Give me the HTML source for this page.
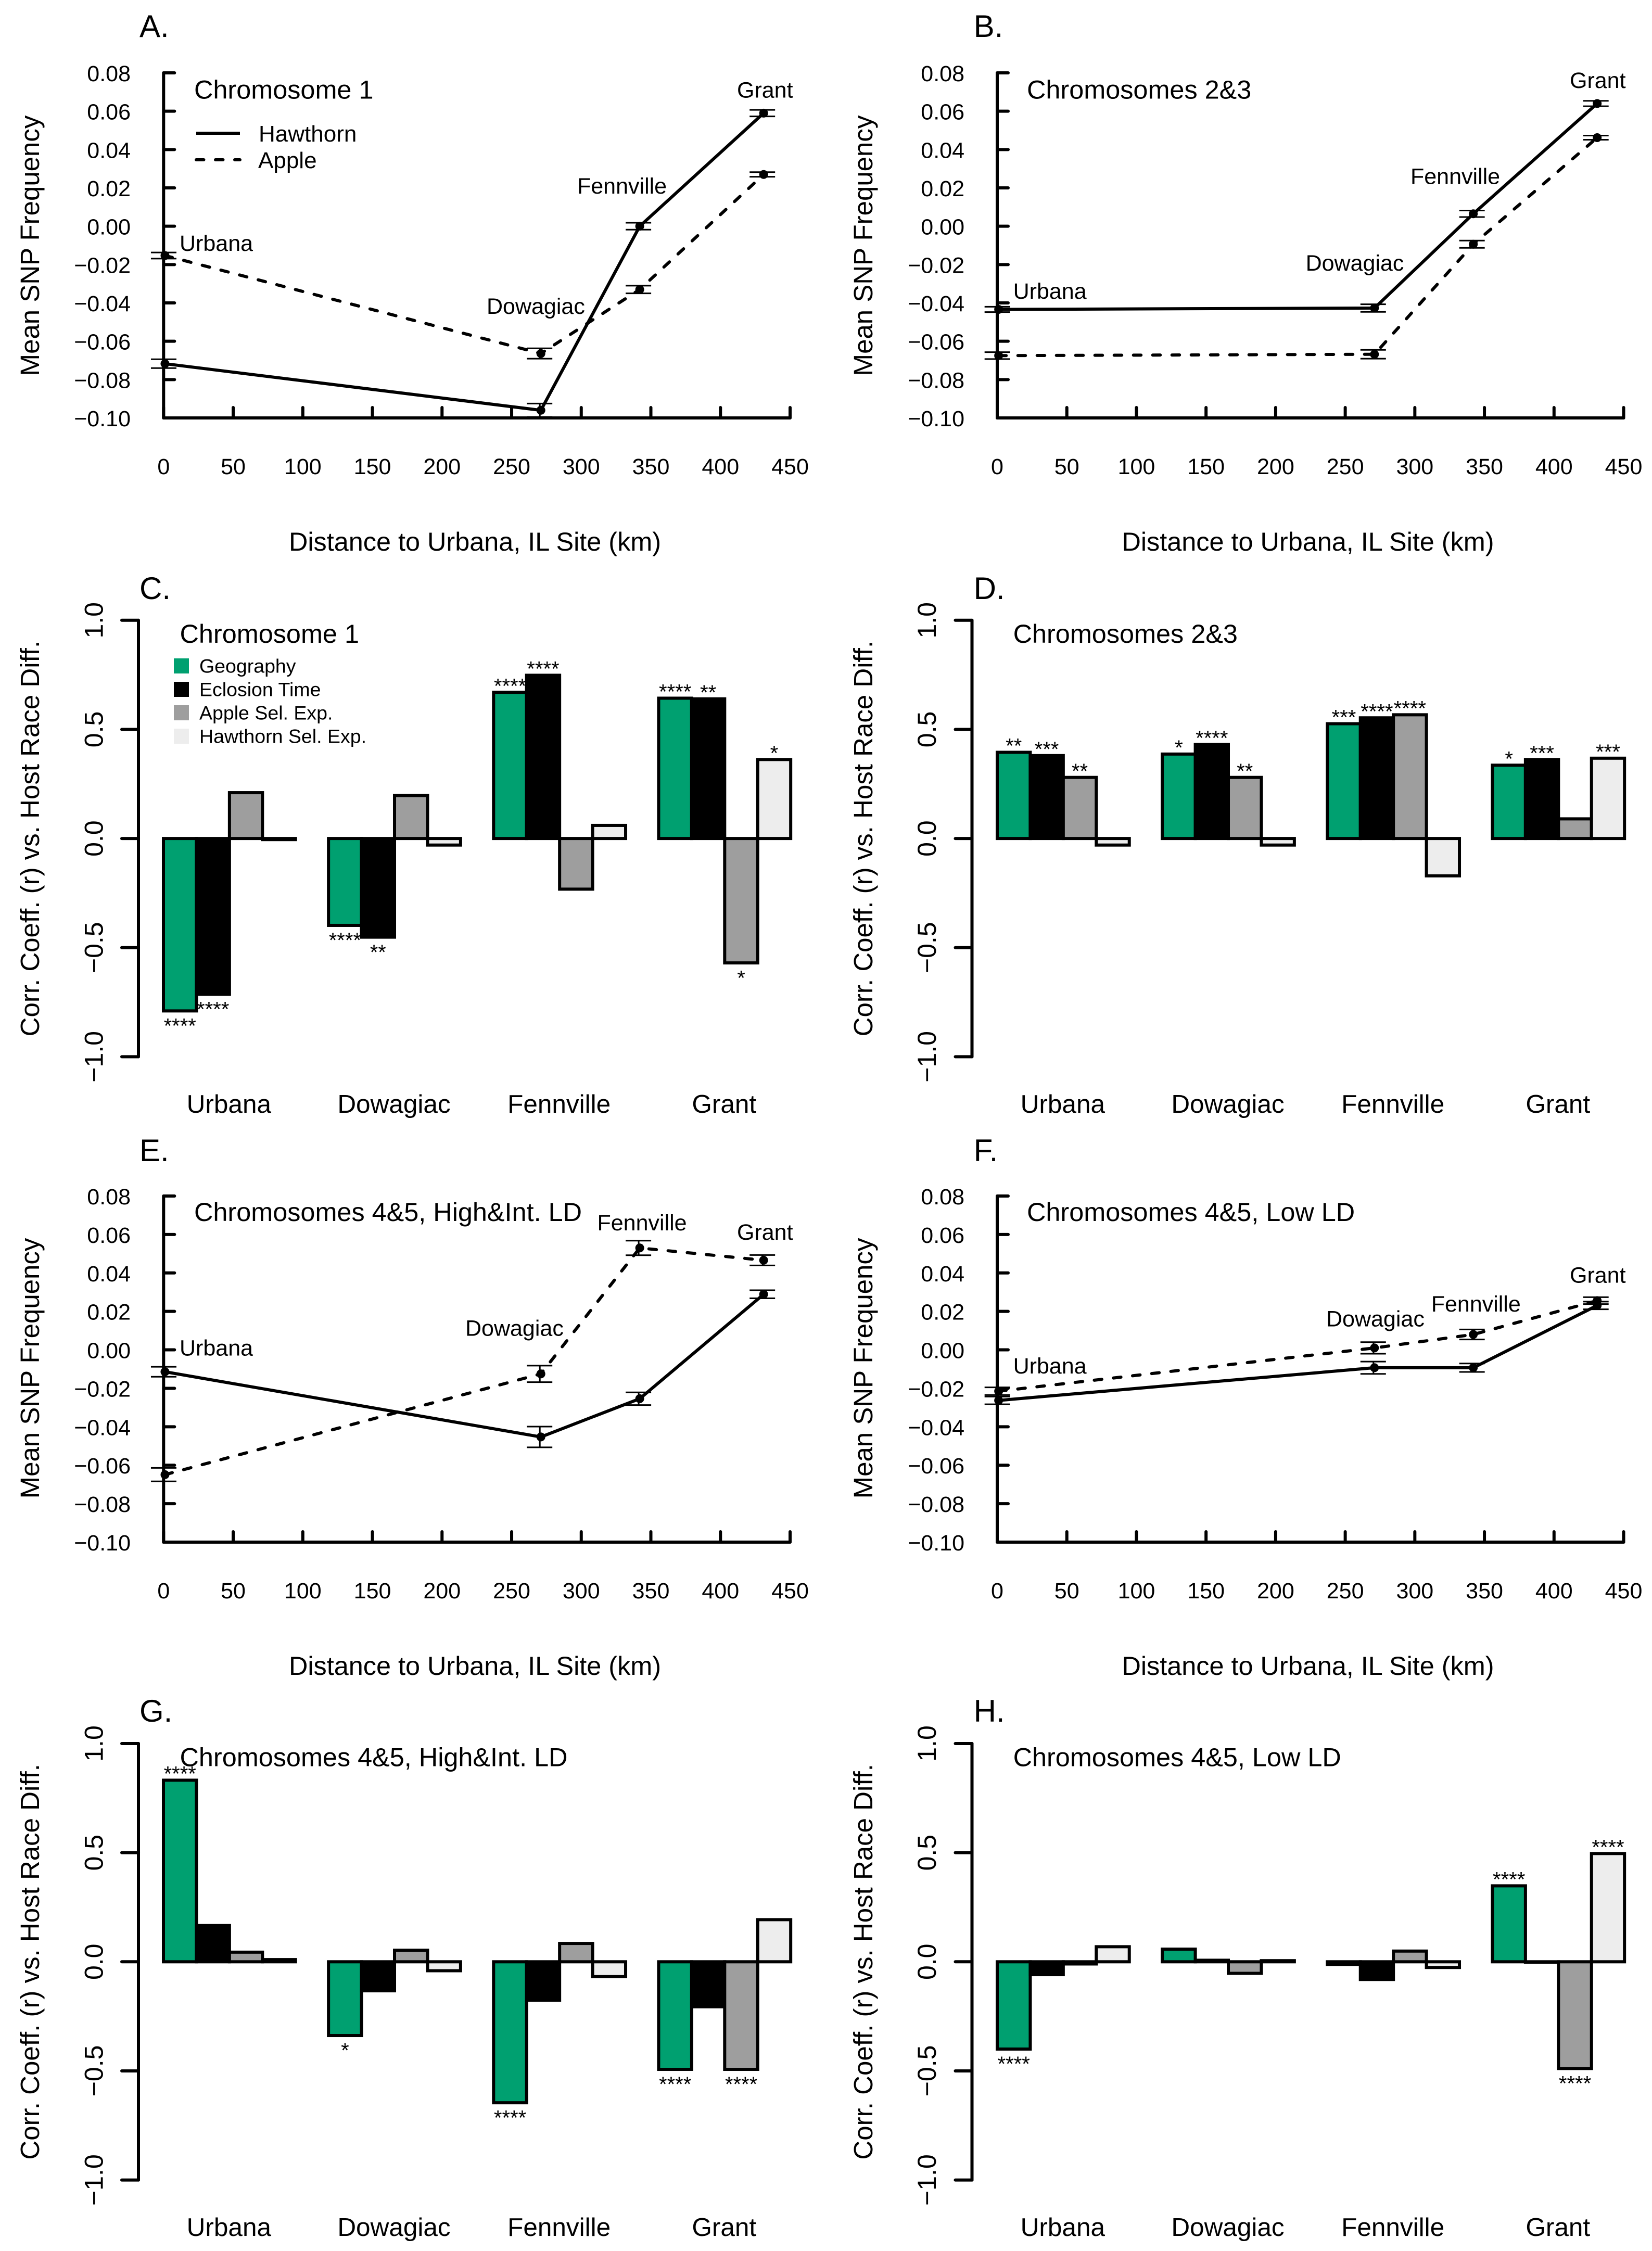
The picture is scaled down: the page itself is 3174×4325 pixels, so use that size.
<!DOCTYPE html>
<html lang="en">
<head>
<meta charset="utf-8">
<title>Mean SNP frequency and correlation panels</title>
<style>
html,body{margin:0;padding:0;background:#fff;}
svg{display:block;}
text{font-family:"Liberation Sans",Arial,sans-serif;fill:#000;}
</style>
</head>
<body>
<svg id="figure" xmlns="http://www.w3.org/2000/svg" width="3174" height="4325" viewBox="0 0 3174 4325">
<rect x="0" y="0" width="3174" height="4325" fill="#ffffff"></rect>
</svg>
<script>
// ---------- shared categories and ticks ----------
const sites = ['Urbana', 'Dowagiac', 'Fennville', 'Grant'];
const distances = [1, 271, 342, 431];
const xTicks = [0, 50, 100, 150, 200, 250, 300, 350, 400, 450];
const freqTicks = [0.08, 0.06, 0.04, 0.02, 0, -0.02, -0.04, -0.06, -0.08, -0.10];
const corrTicks = [1, 0.5, 0, -0.5, -1];
const barSeriesNames = ['Geography', 'Eclosion Time', 'Apple Sel. Exp.', 'Hawthorn Sel. Exp.'];
const lineSeriesNames = ['Hawthorn', 'Apple'];

// ---------- panel A ----------
const aHawthorn = [-0.0717, -0.0960, 0.0000, 0.0590];
const aHawthornErr = [0.0023, 0.0035, 0.0018, 0.0017];
const aApple = [-0.0153, -0.0664, -0.0330, 0.0270];
const aAppleErr = [0.0016, 0.0027, 0.0020, 0.0012];
// ---------- panel B ----------
const bHawthorn = [-0.0434, -0.0427, 0.0065, 0.0640];
const bHawthornErr = [0.0014, 0.0020, 0.0017, 0.0014];
const bApple = [-0.0675, -0.0668, -0.0094, 0.0462];
const bAppleErr = [0.0018, 0.0023, 0.0019, 0.0011];
// ---------- panel E ----------
const eHawthorn = [-0.0114, -0.0453, -0.0254, 0.0289];
const eHawthornErr = [0.0026, 0.0054, 0.0033, 0.0021];
const eApple = [-0.0649, -0.0125, 0.0530, 0.0466];
const eAppleErr = [0.0035, 0.0043, 0.0038, 0.0027];
// ---------- panel F ----------
const fHawthorn = [-0.0263, -0.0093, -0.0093, 0.0231];
const fHawthornErr = [0.0020, 0.0032, 0.0022, 0.0020];
const fApple = [-0.0215, 0.0010, 0.0080, 0.0256];
const fAppleErr = [0.0020, 0.0030, 0.0026, 0.0018];

// ---------- panel C ----------
const cGeography = [-0.790, -0.398, 0.670, 0.643];
const cEclosion = [-0.714, -0.452, 0.748, 0.640];
const cAppleSel = [0.210, 0.197, -0.232, -0.570];
const cHawthornSel = [-0.005, -0.030, 0.060, 0.362];
const cStarsGeography = ['****', '****', '****', '****'];
const cStarsEclosion = ['****', '**', '****', '**'];
const cStarsApple = ['', '', '', '*'];
const cStarsHawthorn = ['', '', '', '*'];
// ---------- panel D ----------
const dGeography = [0.395, 0.387, 0.526, 0.336];
const dEclosion = [0.380, 0.431, 0.553, 0.362];
const dAppleSel = [0.280, 0.280, 0.567, 0.090];
const dHawthornSel = [-0.030, -0.030, -0.171, 0.368];
const dStarsGeography = ['**', '*', '***', '*'];
const dStarsEclosion = ['***', '****', '****', '***'];
const dStarsApple = ['**', '**', '****', ''];
const dStarsHawthorn = ['', '', '', '***'];
// ---------- panel G ----------
const gGeography = [0.832, -0.338, -0.646, -0.493];
const gEclosion = [0.166, -0.133, -0.176, -0.206];
const gAppleSel = [0.044, 0.053, 0.084, -0.493];
const gHawthornSel = [0.010, -0.041, -0.068, 0.193];
const gStarsGeography = ['****', '*', '****', '****'];
const gStarsEclosion = ['', '', '', ''];
const gStarsApple = ['', '', '', '****'];
const gStarsHawthorn = ['', '', '', ''];
// ---------- panel H ----------
const hGeography = [-0.400, 0.058, -0.012, 0.348];
const hEclosion = [-0.059, 0.007, -0.081, -0.002];
const hAppleSel = [-0.010, -0.053, 0.049, -0.489];
const hHawthornSel = [0.069, 0.005, -0.026, 0.496];
const hStarsGeography = ['****', '', '', '****'];
const hStarsEclosion = ['', '', '', ''];
const hStarsApple = ['', '', '', '****'];
const hStarsHawthorn = ['', '', '', '****'];

// ---------- drawing ----------
const NS = 'http://www.w3.org/2000/svg';
const figure = document.getElementById('figure');
const barColors = ['#00A070', '#000000', '#9E9E9E', '#EDEDED'];
const LW = 6;
const DASH = '14.5 22.5';

function make(parent, tag, attrs, txt) {
  const el = document.createElementNS(NS, tag);
  for (const k in attrs) el.setAttribute(k, attrs[k]);
  if (txt !== undefined) el.textContent = txt;
  parent.appendChild(el);
  return el;
}
function tag(el, name, interactive) {
  
  
  return el;
}
function fmtTick(v, digits) {
  const s = Math.abs(v).toFixed(digits);
  return (v < 0 ? '\u2212' : '') + s;
}
function slug(s) {
  return s.toLowerCase().replace(/[^a-z0-9]+/g, '-').replace(/-$/, '');
}
function drawHeader(g, p) {
  const letter = make(g, 'text', {x: p.letterX, y: p.letterY + 2, 'font-size': 60}, p.letter);
  
  
  const title = make(g, 'text', {x: p.titleX - 2, y: p.titleY, 'font-size': 50.4}, p.title);
  
  
}

function drawLinePanel(p) {
  const g = make(figure, 'g', {});
  tag(g, 'line-panel-' + p.letter[0].toLowerCase(), false);
  const xs = v => p.x0 + v * (p.x450 - p.x0) / 450;
  const ys = v => p.top + (0.08 - v) * (p.bottom - p.top) / 0.18;

  drawHeader(g, p);

  const yAxis = make(g, 'line', {x1: p.x0, x2: p.x0, y1: ys(0.08), y2: ys(-0.10), stroke: '#000', 'stroke-width': LW, 'stroke-linecap': 'round'});
  tag(yAxis, 'y-axis', false);
  const xAxis = make(g, 'line', {x1: p.x0, x2: xs(450), y1: ys(-0.10), y2: ys(-0.10), stroke: '#000', 'stroke-width': LW, 'stroke-linecap': 'round'});
  tag(xAxis, 'x-axis', false);

  freqTicks.forEach(v => {
    const t = make(g, 'line', {x1: p.x0, x2: p.x0 + 21, y1: ys(v), y2: ys(v), stroke: '#000', 'stroke-width': LW, 'stroke-linecap': 'round'});
    tag(t, 'y-tick', false);
    const l = make(g, 'text', {x: p.yLabelX, y: ys(v) + 16, 'font-size': 43, 'text-anchor': 'end'}, fmtTick(v, 2));
    tag(l, 'y-tick-label', false);
  });
  xTicks.forEach(v => {
    const t = make(g, 'line', {x1: xs(v), x2: xs(v), y1: ys(-0.10), y2: ys(-0.10) - 20, stroke: '#000', 'stroke-width': LW, 'stroke-linecap': 'round'});
    tag(t, 'x-tick', false);
    const l = make(g, 'text', {x: xs(v), y: ys(-0.10) + 108, 'font-size': 43, 'text-anchor': 'middle'}, String(v));
    tag(l, 'x-tick-label', false);
  });

  const yt = make(g, 'text', {x: 0, y: 0, 'font-size': 51, 'text-anchor': 'middle', transform: 'translate(' + (p.yTitleX - 1) + ' ' + p.yTitleY + ') rotate(-90)'}, 'Mean SNP Frequency');
  tag(yt, 'y-axis-title', false);
  const xt = make(g, 'text', {x: p.xTitleX - 1, y: p.xTitleY, 'font-size': 50.4, 'text-anchor': 'middle'}, 'Distance to Urbana, IL Site (km)');
  tag(xt, 'x-axis-title', false);

  [[p.hawthorn, p.hawthornErr, null, 'hawthorn'], [p.apple, p.appleErr, DASH, 'apple']].forEach(s => {
    const values = s[0], errs = s[1], dash = s[2], nm = s[3];
    const pts = values.map((v, i) => xs(distances[i]).toFixed(1) + ',' + ys(v).toFixed(1)).join(' ');
    const attrs = {points: pts, fill: 'none', stroke: '#000', 'stroke-width': LW, 'stroke-linejoin': 'round', 'stroke-linecap': dash ? 'round' : 'butt'};
    if (dash) attrs['stroke-dasharray'] = dash;
    const line = make(g, 'polyline', attrs);
    tag(line, nm + '-line', false);
    values.forEach((v, i) => {
      const cx = xs(distances[i]);
      const stem = make(g, 'line', {x1: cx - 2, x2: cx - 2, y1: ys(v + errs[i]), y2: ys(v - errs[i]), stroke: '#000', 'stroke-width': 3});
      tag(stem, nm + '-error-bar', false);
      const capTop = make(g, 'line', {x1: cx - 27, x2: cx + 22, y1: ys(v + errs[i]), y2: ys(v + errs[i]), stroke: '#000', 'stroke-width': 3});
      tag(capTop, nm + '-error-cap', false);
      const capBot = make(g, 'line', {x1: cx - 27, x2: cx + 22, y1: ys(v - errs[i]), y2: ys(v - errs[i]), stroke: '#000', 'stroke-width': 3});
      tag(capBot, nm + '-error-cap', false);
      const dot = make(g, 'circle', {cx: cx, cy: ys(v), r: 8.5, fill: '#000'});
      tag(dot, nm + '-point-' + slug(sites[i]), false);
    });
  });

  sites.forEach((name, i) => {
    const l = make(g, 'text', {x: p.siteLabels[i][0] - 2, y: p.siteLabels[i][1], 'font-size': 43}, name);
    tag(l, 'site-label-' + slug(name), false);
  });

  if (p.legend) {
    const solid = make(g, 'line', {x1: 377, x2: 461, y1: 256, y2: 256, stroke: '#000', 'stroke-width': LW});
    tag(solid, 'legend-line-hawthorn', false);
    const dashed = make(g, 'line', {x1: 377, x2: 461, y1: 307, y2: 307, stroke: '#000', 'stroke-width': LW, 'stroke-dasharray': DASH, 'stroke-linecap': 'round'});
    tag(dashed, 'legend-line-apple', false);
    const t1 = make(g, 'text', {x: 497, y: 272, 'font-size': 44}, lineSeriesNames[0]);
    tag(t1, 'legend-label-hawthorn', false);
    const t2 = make(g, 'text', {x: 496, y: 323, 'font-size': 44}, lineSeriesNames[1]);
    tag(t2, 'legend-label-apple', false);
  }
}

function drawBarPanel(p) {
  const g = make(figure, 'g', {});
  tag(g, 'bar-panel-' + p.letter[0].toLowerCase(), false);
  const barW = 63.43;
  const ys = v => p.top + (1 - v) * (p.bottom - p.top) / 2;
  const bx = (site, ser) => p.start + (site * 5 + ser) * barW;

  drawHeader(g, p);

  const yAxis = make(g, 'line', {x1: p.axisX, x2: p.axisX, y1: ys(1), y2: ys(-1), stroke: '#000', 'stroke-width': LW, 'stroke-linecap': 'round'});
  tag(yAxis, 'y-axis', false);
  corrTicks.forEach(v => {
    const t = make(g, 'line', {x1: p.axisX, x2: p.axisX - 32, y1: ys(v), y2: ys(v), stroke: '#000', 'stroke-width': LW, 'stroke-linecap': 'round'});
    tag(t, 'y-tick', false);
    const l = make(g, 'text', {x: 0, y: 0, 'font-size': 50, 'text-anchor': 'middle', transform: 'translate(' + p.yLabelX + ' ' + ys(v) + ') rotate(-90)'}, fmtTick(v, 1));
    tag(l, 'y-tick-label', false);
  });
  const yt = make(g, 'text', {x: 0, y: 0, 'font-size': 51, 'text-anchor': 'middle', transform: 'translate(' + (p.yTitleX - 1) + ' ' + ys(0) + ') rotate(-90)'}, 'Corr. Coeff. (r) vs. Host Race Diff.');
  tag(yt, 'y-axis-title', false);

  const series = [p.geo, p.ecl, p.app, p.haw];
  const stars = [p.sGeo, p.sEcl, p.sApp, p.sHaw];
  series.forEach((vals, ser) => {
    vals.forEach((v, site) => {
      const y1 = Math.min(ys(v), ys(0));
      const h = Math.abs(ys(v) - ys(0));
      const r = make(g, 'rect', {x: bx(site, ser), y: y1, width: barW, height: h, fill: barColors[ser], stroke: '#000', 'stroke-width': LW, 'stroke-linejoin': 'miter'});
      tag(r, 'bar-' + slug(sites[site]) + '-' + slug(barSeriesNames[ser]), false);
    });
  });
  stars.forEach((arr, ser) => {
    arr.forEach((s, site) => {
      if (!s) return;
      const v = series[ser][site];
      const base = v >= 0 ? ys(v) + 1.2 : ys(v) + 42.2;
      const t = make(g, 'text', {x: bx(site, ser) + barW / 2, y: base, 'font-size': 40, 'text-anchor': 'middle'}, s);
      tag(t, 'significance-stars', false);
    });
  });
  sites.forEach((name, i) => {
    const l = make(g, 'text', {x: bx(i, 2) - 1, y: p.catY, 'font-size': 49.5, 'text-anchor': 'middle'}, name);
    tag(l, 'category-label-' + slug(name), false);
  });

  if (p.legend) {
    barSeriesNames.forEach((name, i) => {
      const sw = make(g, 'rect', {x: 334, y: 1265 + i * 45, width: 29, height: 29, fill: barColors[i]});
      tag(sw, 'legend-swatch-' + slug(name), false);
      const t = make(g, 'text', {x: 383, y: 1292.7 + i * 45, 'font-size': 37.5}, name);
      tag(t, 'legend-label-' + slug(name), false);
    });
  }
}

// ---------- panels ----------
drawLinePanel({
  letter: 'A.', letterX: 268, letterY: 69, title: 'Chromosome 1', titleX: 375, titleY: 189.5,
  x0: 314.3, x450: 1518, top: 140, bottom: 803, yLabelX: 251, yTitleX: 76, yTitleY: 472, xTitleX: 913.5, xTitleY: 1058,
  hawthorn: aHawthorn, hawthornErr: aHawthornErr, apple: aApple, appleErr: aAppleErr,
  siteLabels: [[347, 482], [937, 603], [1111, 372], [1418, 187.5]], legend: true
});
drawLinePanel({
  letter: 'B.', letterX: 1870.6, letterY: 69, title: 'Chromosomes 2&3', titleX: 1975, titleY: 189.5,
  x0: 1916, x450: 3119.5, top: 140, bottom: 803, yLabelX: 1853, yTitleX: 1677, yTitleY: 472, xTitleX: 2514, xTitleY: 1058,
  hawthorn: bHawthorn, hawthornErr: bHawthornErr, apple: bApple, appleErr: bAppleErr,
  siteLabels: [[1948.6, 574], [2510.6, 520], [2712, 353.5], [3018, 169]], legend: false
});
drawBarPanel({
  letter: 'C.', letterX: 268, letterY: 1149, title: 'Chromosome 1', titleX: 347.5, titleY: 1235,
  axisX: 266, start: 314, top: 1191.8, bottom: 2030.4, yLabelX: 197.5, yTitleX: 76, catY: 2138,
  geo: cGeography, ecl: cEclosion, app: cAppleSel, haw: cHawthornSel,
  sGeo: cStarsGeography, sEcl: cStarsEclosion, sApp: cStarsApple, sHaw: cStarsHawthorn, legend: true
});
drawBarPanel({
  letter: 'D.', letterX: 1870.6, letterY: 1149, title: 'Chromosomes 2&3', titleX: 1948.6, titleY: 1235,
  axisX: 1867.5, start: 1916, top: 1191.8, bottom: 2030.4, yLabelX: 1798, yTitleX: 1677, catY: 2138,
  geo: dGeography, ecl: dEclosion, app: dAppleSel, haw: dHawthornSel,
  sGeo: dStarsGeography, sEcl: dStarsEclosion, sApp: dStarsApple, sHaw: dStarsHawthorn, legend: false
});
drawLinePanel({
  letter: 'E.', letterX: 268, letterY: 2229, title: 'Chromosomes 4&5, High&Int. LD', titleX: 375, titleY: 2346,
  x0: 314.3, x450: 1518, top: 2298, bottom: 2963, yLabelX: 251, yTitleX: 76, yTitleY: 2629, xTitleX: 913.5, xTitleY: 3218,
  hawthorn: eHawthorn, hawthornErr: eHawthornErr, apple: eApple, appleErr: eAppleErr,
  siteLabels: [[347, 2604.5], [896, 2566.6], [1149.5, 2364], [1418, 2382]], legend: false
});
drawLinePanel({
  letter: 'F.', letterX: 1870.6, letterY: 2229, title: 'Chromosomes 4&5, Low LD', titleX: 1975, titleY: 2346,
  x0: 1916, x450: 3119.5, top: 2298, bottom: 2963, yLabelX: 1853, yTitleX: 1677, yTitleY: 2629, xTitleX: 2514, xTitleY: 3218,
  hawthorn: fHawthorn, hawthornErr: fHawthornErr, apple: fApple, appleErr: fAppleErr,
  siteLabels: [[1948.6, 2639], [2550, 2548.7], [2751.7, 2519.8], [3018, 2464.6]], legend: false
});
drawBarPanel({
  letter: 'G.', letterX: 268, letterY: 3306, title: 'Chromosomes 4&5, High&Int. LD', titleX: 347.5, titleY: 3393.7,
  axisX: 266, start: 314, top: 3350, bottom: 4188.6, yLabelX: 197.5, yTitleX: 76, catY: 4296,
  geo: gGeography, ecl: gEclosion, app: gAppleSel, haw: gHawthornSel,
  sGeo: gStarsGeography, sEcl: gStarsEclosion, sApp: gStarsApple, sHaw: gStarsHawthorn, legend: false
});
drawBarPanel({
  letter: 'H.', letterX: 1870.6, letterY: 3306, title: 'Chromosomes 4&5, Low LD', titleX: 1948.6, titleY: 3393.7,
  axisX: 1867.5, start: 1916, top: 3350, bottom: 4188.6, yLabelX: 1798, yTitleX: 1677, catY: 4296,
  geo: hGeography, ecl: hEclosion, app: hAppleSel, haw: hHawthornSel,
  sGeo: hStarsGeography, sEcl: hStarsEclosion, sApp: hStarsApple, sHaw: hStarsHawthorn, legend: false
});
</script>
</body>
</html>
